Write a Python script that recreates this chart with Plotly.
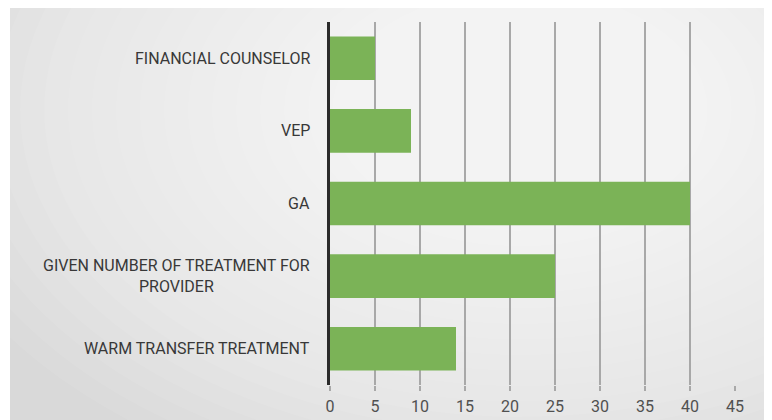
import plotly.graph_objects as go

categories = [
    "FINANCIAL COUNSELOR",
    "VEP",
    "GA",
    "GIVEN NUMBER OF TREATMENT FOR<br>PROVIDER",
    "WARM TRANSFER TREATMENT",
]
values = [5, 9, 40, 25, 14]
x_ticks = [0, 5, 10, 15, 20, 25, 30, 35, 40, 45]

# page body has an 8px offset; figure sized to fit the window
OFF = 8
W, H = 764, 412
ml, mr, mt, mb = 322, 37, 14, 35
pw, ph = W - ml - mr, H - mt - mb

FONT = "Roboto, sans-serif"


def px(xr):
    return (xr - OFF - ml) / pw


def py(yr):
    return (mt + ph - (yr - OFF)) / ph


fig = go.Figure()
fig.add_trace(go.Bar(
    y=categories, x=values, orientation="h",
    marker=dict(color="#7bb357", line=dict(width=0)),
    hoverinfo="skip",
))

shapes = [dict(type="rect", xref="paper", yref="paper",
               x0=px(10), x1=px(767), y0=py(430), y1=py(8),
               fillcolor="#d9d9d9", line=dict(width=0), layer="below")]
# soft radial lightening to mimic the gradient background
cx, cy = 520, 110
N = 24
for k in range(N):
    rx = 620 - k * 24
    ry = 400 - k * 15.5
    shapes.append(dict(type="circle", xref="paper", yref="paper",
                       x0=px(cx - rx), x1=px(cx + rx),
                       y0=py(cy + ry), y1=py(cy - ry),
                       fillcolor="white", opacity=0.075,
                       line=dict(width=0), layer="below"))
# white border strips outside panel
shapes.append(dict(type="rect", xref="paper", yref="paper",
                   x0=px(0), x1=px(10), y0=py(430), y1=py(0),
                   fillcolor="white", line=dict(width=0), layer="below"))
shapes.append(dict(type="rect", xref="paper", yref="paper",
                   x0=px(0), x1=px(780), y0=py(8), y1=py(0),
                   fillcolor="white", line=dict(width=0), layer="below"))
shapes.append(dict(type="rect", xref="paper", yref="paper",
                   x0=px(767), x1=px(780), y0=py(430), y1=py(0),
                   fillcolor="white", line=dict(width=0), layer="below"))

annotations = []
for c in categories:
    annotations.append(dict(
        x=0, y=c, xref="x", yref="y", text=c, showarrow=False,
        xanchor="right", xshift=-18, align="center",
        font=dict(family=FONT, size=16, color="#383838"),
    ))

fig.update_layout(
    width=W, height=H,
    margin=dict(l=ml, r=mr, t=mt, b=mb, pad=0, autoexpand=False),
    paper_bgcolor="white", plot_bgcolor="rgba(0,0,0,0)",
    showlegend=False, bargap=0.4,
    shapes=shapes,
    annotations=annotations,
    xaxis=dict(range=[0, 45], tickvals=x_ticks, ticktext=[str(v) for v in x_ticks],
               showgrid=True, gridcolor="#a8a8a8", gridwidth=2,
               zeroline=False, showline=False, automargin=False,
               ticks="outside", ticklen=5, tickwidth=2, tickcolor="#a8a8a8",
               ticklabelstandoff=2,
               tickfont=dict(family=FONT, size=16, color="#505050"),
               fixedrange=True),
    yaxis=dict(categoryorder="array", categoryarray=categories, autorange="reversed",
               showticklabels=False, showgrid=False, zeroline=False, automargin=False,
               showline=True, linecolor="#2b2b2b", linewidth=3, ticks="",
               fixedrange=True),
)

fig.write_html("out.html")
